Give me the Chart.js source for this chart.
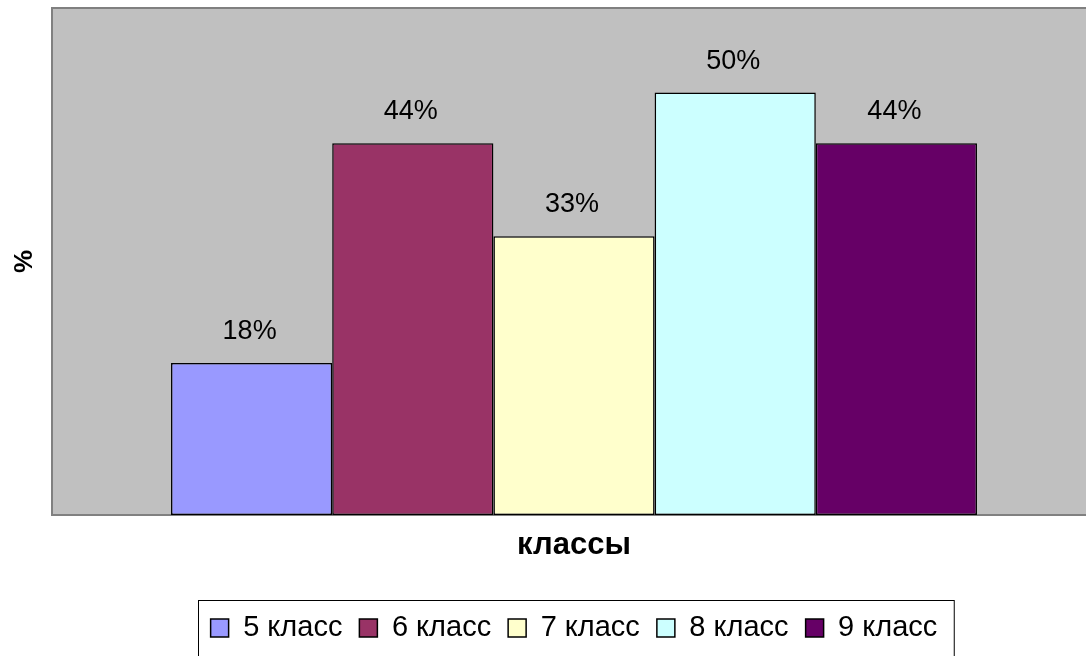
<!DOCTYPE html>
<html>
<head>
<meta charset="utf-8">
<script src="https://cdn.jsdelivr.net/npm/chart.js@4"></script>
<style>
  body { margin: 0; overflow: hidden; background: #fff; }
</style>
</head>
<body>
<canvas id="grafico" width="1100" height="656"></canvas>
<script>
// dati
const categorie = ['5 класс', '6 класс', '7 класс', '8 класс', '9 класс'];
const valori = [18, 44, 33, 50, 44];
const colori = ['#9999FF', '#993366', '#FFFFCC', '#CCFFFF', '#660066'];
const titoloX = 'классы';
const titoloY = '%';

// sfondo grigio dell'area del grafico
const sfondoPlugin = {
  id: 'sfondo',
  beforeDatasetsDraw(chart) {
    const a = chart.chartArea;
    const ctx = chart.ctx;
    ctx.save();
    ctx.fillStyle = '#C0C0C0';
    ctx.fillRect(a.left, a.top, a.right - a.left, a.bottom - a.top);
    ctx.strokeStyle = '#808080';
    ctx.lineWidth = 2;
    ctx.beginPath();
    ctx.moveTo(a.right + 2, a.top);
    ctx.lineTo(a.left, a.top);
    ctx.lineTo(a.left, a.bottom);
    ctx.lineTo(a.right + 2, a.bottom);
    ctx.stroke();
    ctx.restore();
  }
};

// etichette percentuali sopra le barre + bordo della legenda
const etichettePlugin = {
  id: 'etichette',
  afterDraw(chart) {
    const ctx = chart.ctx;
    ctx.save();
    ctx.font = '27px "Liberation Sans", Arial, sans-serif';
    ctx.fillStyle = '#000';
    ctx.textAlign = 'center';
    ctx.textBaseline = 'alphabetic';
    chart.data.datasets.forEach((ds, i) => {
      const bar = chart.getDatasetMeta(i).data[0];
      ctx.fillText(ds.data[0] + '%', bar.x - 2, bar.y - 24);
    });
    const hb = chart.legend.legendHitBoxes;
    if (hb && hb.length) {
      const first = hb[0];
      const last = hb[hb.length - 1];
      ctx.strokeStyle = '#000';
      ctx.lineWidth = 1;
      ctx.strokeRect(Math.round(first.left) - 12.5, 600.5, last.left + last.width - first.left + 29, 80);
    }
    ctx.restore();
  }
};

let ctx = document.getElementById('grafico');

new Chart(ctx, {
  type: 'bar',
  data: {
    labels: [''],
    datasets: categorie.map((c, i) => ({
      label: c,
      data: [valori[i]],
      backgroundColor: colori[i],
      borderColor: '#000',
      borderWidth: 1.5,
      borderSkipped: false,
      categoryPercentage: 0.772,
      barPercentage: 1
    }))
  },
  options: {
    responsive: false,
    animation: false,
    layout: { padding: { top: 8, right: 4, bottom: 3.5, left: 0 } },
    plugins: {
      tooltip: { enabled: false },
      legend: {
        position: 'bottom',
        fullSize: false,
        labels: {
          color: '#000',
          font: { family: '"Liberation Sans", Arial, sans-serif', size: 29 },
          boxWidth: 18,
          boxHeight: 18,
          padding: 17
        }
      }
    },
    scales: {
      x: {
        ticks: { display: false },
        grid: { display: false, drawTicks: false },
        border: { display: false },
        title: {
          display: true,
          text: titoloX,
          color: '#000',
          font: { family: '"Liberation Sans", Arial, sans-serif', size: 31, weight: 'bold' },
          padding: { top: 12.3, bottom: 32 }
        }
      },
      y: {
        min: 0,
        max: 60,
        ticks: { display: false },
        grid: { display: false, drawTicks: false },
        border: { display: false },
        title: {
          display: true,
          text: titoloY,
          color: '#000',
          font: { family: '"Liberation Sans", Arial, sans-serif', size: 26, weight: 'bold' },
          padding: { top: 9, bottom: 11.8 }
        }
      }
    }
  },
  plugins: [sfondoPlugin, etichettePlugin]
});
</script>
</body>
</html>
